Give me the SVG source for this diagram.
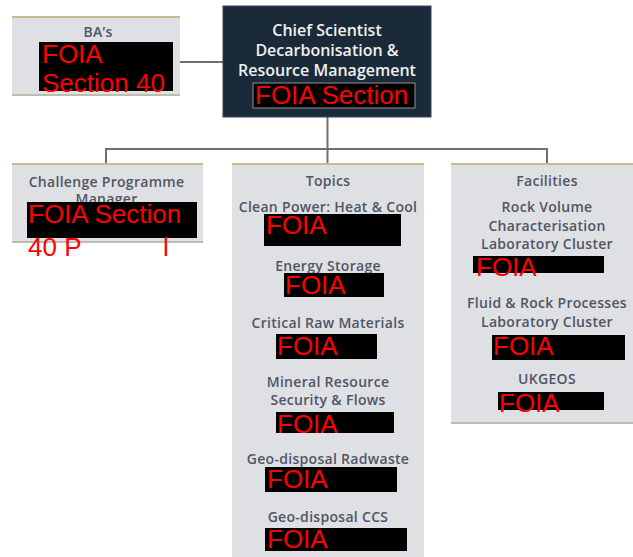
<svg xmlns="http://www.w3.org/2000/svg" width="633" height="557" viewBox="0 0 633 557">
<style>
.box{fill:#dfe0e4}
.top{stroke:#c9b98e;stroke-width:2}
.bot{stroke:#bdbcae;stroke-width:2}
.lbl{font-family:"Open Sans","Liberation Sans",sans-serif;font-weight:600;font-size:14px;letter-spacing:0.3px;fill:#4f5663;text-anchor:middle}
.wht{font-family:"Open Sans","Liberation Sans",sans-serif;font-weight:600;font-size:16px;fill:#eef0f2;text-anchor:middle}
.red{font-family:"Liberation Sans",Arial,sans-serif;font-size:26px;fill:#ff0000}
.blk{fill:#000}
.conn{stroke:#6c7178;stroke-width:2;fill:none}
</style>
<rect width="633" height="557" fill="#ffffff"/>
<g id="connectors">
<path class="conn" d="M180,62 H223"/>
<path class="conn" d="M327.5,117 V149 M106,164 V149 H547 V164 M327.5,149 V164"/>
</g>
<g id="ba">
<rect class="box" x="12" y="17" width="168" height="78"/>
<line class="top" x1="12" y1="17" x2="180" y2="17"/>
<line class="bot" x1="12" y1="95" x2="180" y2="95"/>
<text class="lbl" x="98" y="37" font-size="12.5">BA’s</text>
<rect class="blk" x="39" y="42" width="134" height="49"/>
<text class="red" x="42" y="63">FOIA</text>
<text class="red" x="42" y="92">Section 40</text>
</g>
<g id="chief">
<rect x="223" y="6" width="208" height="111" fill="#1b2a38" stroke="#34475a" stroke-width="1"/>
<text class="wht" x="327" y="36">Chief Scientist</text>
<text class="wht" x="327" y="56">Decarbonisation &amp;</text>
<text class="wht" x="327" y="76">Resource Management</text>
<rect class="blk" x="253" y="83" width="162" height="25" stroke="#8d949c" stroke-width="1"/>
<text class="red" x="255" y="104">FOIA Section</text>
</g>
<g id="challenge">
<rect class="box" x="12" y="164" width="191" height="78"/>
<line class="top" x1="12" y1="164" x2="203" y2="164"/>
<line class="bot" x1="12" y1="242" x2="203" y2="242"/>
<text class="lbl" x="106.5" y="187">Challenge Programme</text>
<text class="lbl" x="106.5" y="204">Manager</text>
<rect class="blk" x="27" y="202" width="170" height="36"/>
<text class="red" x="28" y="223">FOIA Section</text>
<text class="red" x="28" y="256">40 P</text>
<text class="red" x="163" y="256">l</text>
</g>
<g id="topics">
<rect class="box" x="232" y="164" width="192" height="400"/>
<line class="top" x1="232" y1="164" x2="424" y2="164"/>
<text class="lbl" x="328" y="186">Topics</text>
<text class="lbl" x="328" y="212">Clean Power: Heat &amp; Cool</text>
<rect class="blk" x="264" y="214" width="137" height="32"/>
<text class="red" x="266" y="234">FOIA</text>
<text class="lbl" x="328" y="271">Energy Storage</text>
<rect class="blk" x="284" y="273" width="100" height="24"/>
<text class="red" x="285" y="294">FOIA</text>
<text class="lbl" x="328" y="328">Critical Raw Materials</text>
<rect class="blk" x="276" y="334" width="101" height="25"/>
<text class="red" x="277" y="355">FOIA</text>
<text class="lbl" x="328" y="387">Mineral Resource</text>
<text class="lbl" x="328" y="405">Security &amp; Flows</text>
<rect class="blk" x="276" y="412" width="118" height="21"/>
<text class="red" x="277" y="433">FOIA</text>
<text class="lbl" x="328" y="464">Geo-disposal Radwaste</text>
<rect class="blk" x="265" y="467" width="132" height="25"/>
<text class="red" x="267" y="488">FOIA</text>
<text class="lbl" x="328" y="522">Geo-disposal CCS</text>
<rect class="blk" x="265" y="528" width="142" height="23"/>
<text class="red" x="267" y="548">FOIA</text>
</g>
<g id="facilities">
<rect class="box" x="451" y="164" width="192" height="259"/>
<line class="top" x1="451" y1="164" x2="643" y2="164"/>
<line class="bot" x1="451" y1="423" x2="643" y2="423"/>
<text class="lbl" x="547" y="186">Facilities</text>
<text class="lbl" x="547" y="212">Rock Volume</text>
<text class="lbl" x="547" y="231">Characterisation</text>
<text class="lbl" x="547" y="249">Laboratory Cluster</text>
<rect class="blk" x="473" y="256" width="131" height="17"/>
<text class="red" x="476" y="276">FOIA</text>
<text class="lbl" x="547" y="308">Fluid &amp; Rock Processes</text>
<text class="lbl" x="547" y="327">Laboratory Cluster</text>
<rect class="blk" x="492" y="335" width="133" height="25"/>
<text class="red" x="493" y="355">FOIA</text>
<text class="lbl" x="547" y="384">UKGEOS</text>
<rect class="blk" x="498" y="392" width="106" height="18"/>
<text class="red" x="499" y="412">FOIA</text>
</g>
</svg>
